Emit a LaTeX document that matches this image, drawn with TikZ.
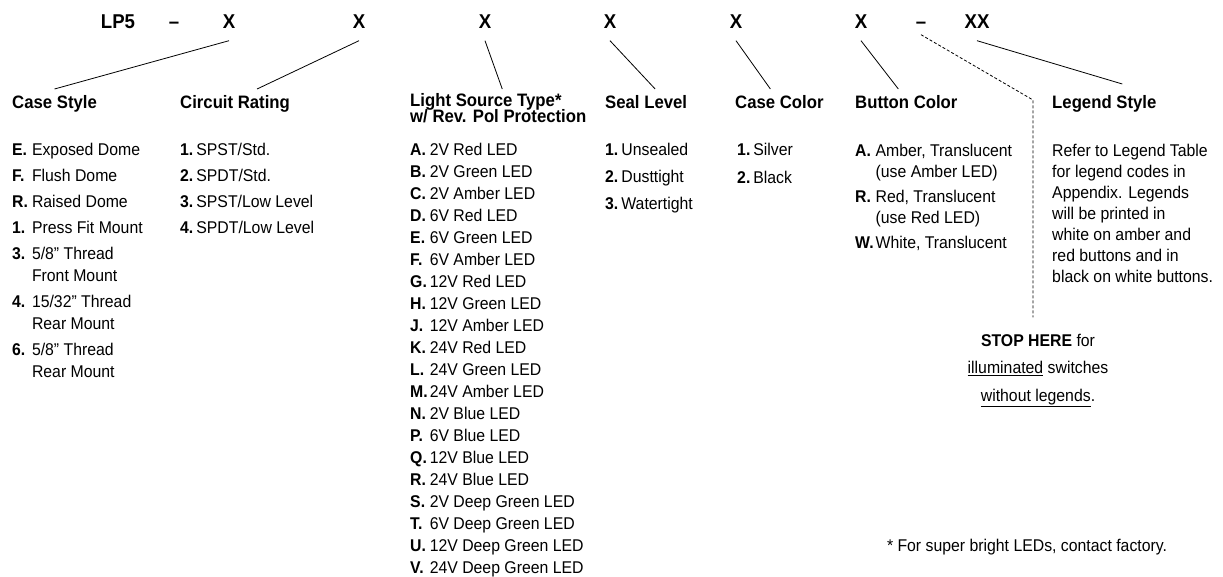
\documentclass[tikz,border=0pt]{standalone}
\usepackage{fontspec}
\setmainfont{Liberation Sans}[FakeStretch=0.93]

\begin{document}
\begin{tikzpicture}[x=1pt,y=-1pt,
		code/.style={font=\fontsize{20}{24}\selectfont\bfseries, inner xsep=0pt, inner ysep=12pt, anchor=base},
		head/.style={font=\fontsize{18}{14}\selectfont\bfseries, inner xsep=0pt, inner ysep=6pt, anchor=north west, align=left},
		entry/.style={font=\fontsize{17}{22}\selectfont, inner sep=0pt, anchor=base west},
		lead/.style={line width=0.8pt},
		stopline/.style={line width=0.8pt, dash pattern=on 3pt off 2pt}]
		\useasboundingbox (0,0) rectangle (1223,577);

		% part number
		\node[code] (lp)   at (118,28.5) {LP5};
		\node[code] (d1)   at (174,28.5) {--};
		\node[code] (case) at (229,28.5) {X};
		\node[code] (circ) at (359,28.5) {X};
		\node[code] (lite) at (485,28.5) {X};
		\node[code] (seal) at (610,28.5) {X};
		\node[code] (ccol) at (736,28.5) {X};
		\node[code] (bcol) at (861,28.5) {X};
		\node[code] (d2)   at (921,28.5) {--};
		\node[code] (lgnd) at (977,28.5) {XX};

		% headings
		\node[head] (hcase) at (12,89)   {Case Style};
		\node[head] (hcirc) at (180,89)  {Circuit Rating};
		\node[head] (hlite) at (410,87)  {Light Source Type*\\[-1.5pt]w/ Rev. Pol Protection};
		\node[head] (hseal) at (605,89)  {Seal Level};
		\node[head] (hccol) at (735,89)  {Case Color};
		\node[head] (hbcol) at (855,89)  {Button Color};
		\node[head] (hlgnd) at (1052,89) {Legend Style};

		% option lists
		\node[entry] (lcase) at (12,156) {\begin{tabular}[t]{@{}l@{\hspace{4pt}}l@{}}
			\textbf{E.} & Exposed Dome\\[4pt]
			\textbf{F.} & Flush Dome\\[4pt]
			\textbf{R.} & Raised Dome\\[4pt]
			\textbf{1.} & Press Fit Mount\\[4pt]
			\textbf{3.} & 5/8'' Thread\\
			            & Front Mount\\[4pt]
			\textbf{4.} & 15/32'' Thread\\
			            & Rear Mount\\[4pt]
			\textbf{6.} & 5/8'' Thread\\
			            & Rear Mount
		\end{tabular}};
		\node[entry] (lcirc) at (180,156) {\begin{tabular}[t]{@{}l@{\hspace{3pt}}l@{}}
			\textbf{1.} & SPST/Std.\\[4pt]
			\textbf{2.} & SPDT/Std.\\[4pt]
			\textbf{3.} & SPST/Low Level\\[4pt]
			\textbf{4.} & SPDT/Low Level
		\end{tabular}};
		\node[entry] (llite) at (410,156) {\begin{tabular}[t]{@{}l@{\hspace{2pt}}l@{}}
			\textbf{A.} & 2V Red LED\\
			\textbf{B.} & 2V Green LED\\
			\textbf{C.} & 2V Amber LED\\
			\textbf{D.} & 6V Red LED\\
			\textbf{E.} & 6V Green LED\\
			\textbf{F.} & 6V Amber LED\\
			\textbf{G.} & 12V Red LED\\
			\textbf{H.} & 12V Green LED\\
			\textbf{J.} & 12V Amber LED\\
			\textbf{K.} & 24V Red LED\\
			\textbf{L.} & 24V Green LED\\
			\textbf{M.} & 24V Amber LED\\
			\textbf{N.} & 2V Blue LED\\
			\textbf{P.} & 6V Blue LED\\
			\textbf{Q.} & 12V Blue LED\\
			\textbf{R.} & 24V Blue LED\\
			\textbf{S.} & 2V Deep Green LED\\
			\textbf{T.} & 6V Deep Green LED\\
			\textbf{U.} & 12V Deep Green LED\\
			\textbf{V.} & 24V Deep Green LED
		\end{tabular}};
		\node[entry] (lseal) at (605,156) {\begin{tabular}[t]{@{}l@{\hspace{3pt}}l@{}}
			\textbf{1.} & Unsealed\\[5pt]
			\textbf{2.} & Dusttight\\[5pt]
			\textbf{3.} & Watertight
		\end{tabular}};
		\node[entry] (lccol) at (737,156) {\begin{tabular}[t]{@{}l@{\hspace{3pt}}l@{}}
			\textbf{1.} & Silver\\[6pt]
			\textbf{2.} & Black
		\end{tabular}};
		\node[entry] (lbcol) at (855,157) {\begin{tabular}[t]{@{}l@{\hspace{2pt}}l@{}}
			\textbf{A.} & Amber, Translucent\\[-1pt]
			            & (use Amber LED)\\[3pt]
			\textbf{R.} & Red, Translucent\\[-1pt]
			            & (use Red LED)\\[3pt]
			\textbf{W.} & White, Translucent
		\end{tabular}};
		\node[entry] (llgnd) at (1052,157) {\begin{tabular}[t]{@{}l@{}}
			Refer to Legend Table\\[-1pt]
			for legend codes in\\[-1pt]
			Appendix. Legends\\[-1pt]
			will be printed in\\[-1pt]
			white on amber and\\[-1pt]
			red buttons and in\\[-1pt]
			black on white buttons.
		\end{tabular}};

		\node[entry, anchor=base] (halt) at (1038,346) {\begin{tabular}[t]{@{}c@{}}
			\textbf{STOP HERE} for\\[5.5pt]
			\underline{illuminated} switches\\[5.5pt]
			\underline{without legends}.
		\end{tabular}};
		\node[entry, anchor=base] (note) at (1027,551) {* For super bright LEDs, contact factory.};

		% leaders
		\draw[lead] (case.south) -- (hcase.north);
		\draw[lead] (circ.south) -- ([xshift=22pt]hcirc.north);
		\draw[lead] (lite.south) -- ([xshift=4pt,yshift=-2pt]hlite.north);
		\draw[lead] (seal.south) -- ([xshift=9pt]hseal.north);
		\draw[lead] (ccol.south) -- ([xshift=-9pt]hccol.north);
		\draw[lead] (bcol.south) -- ([xshift=-8pt]hbcol.north);
		\draw[lead] (lgnd.south) -- ([xshift=18pt,yshift=5pt]hlgnd.north);

		\coordinate (kink) at (1033,100);
		\draw[stopline, shorten >=13pt] ([yshift=6pt]d2.south) -- (kink) -- (kink |- halt.north);
\end{tikzpicture}
\end{document}
